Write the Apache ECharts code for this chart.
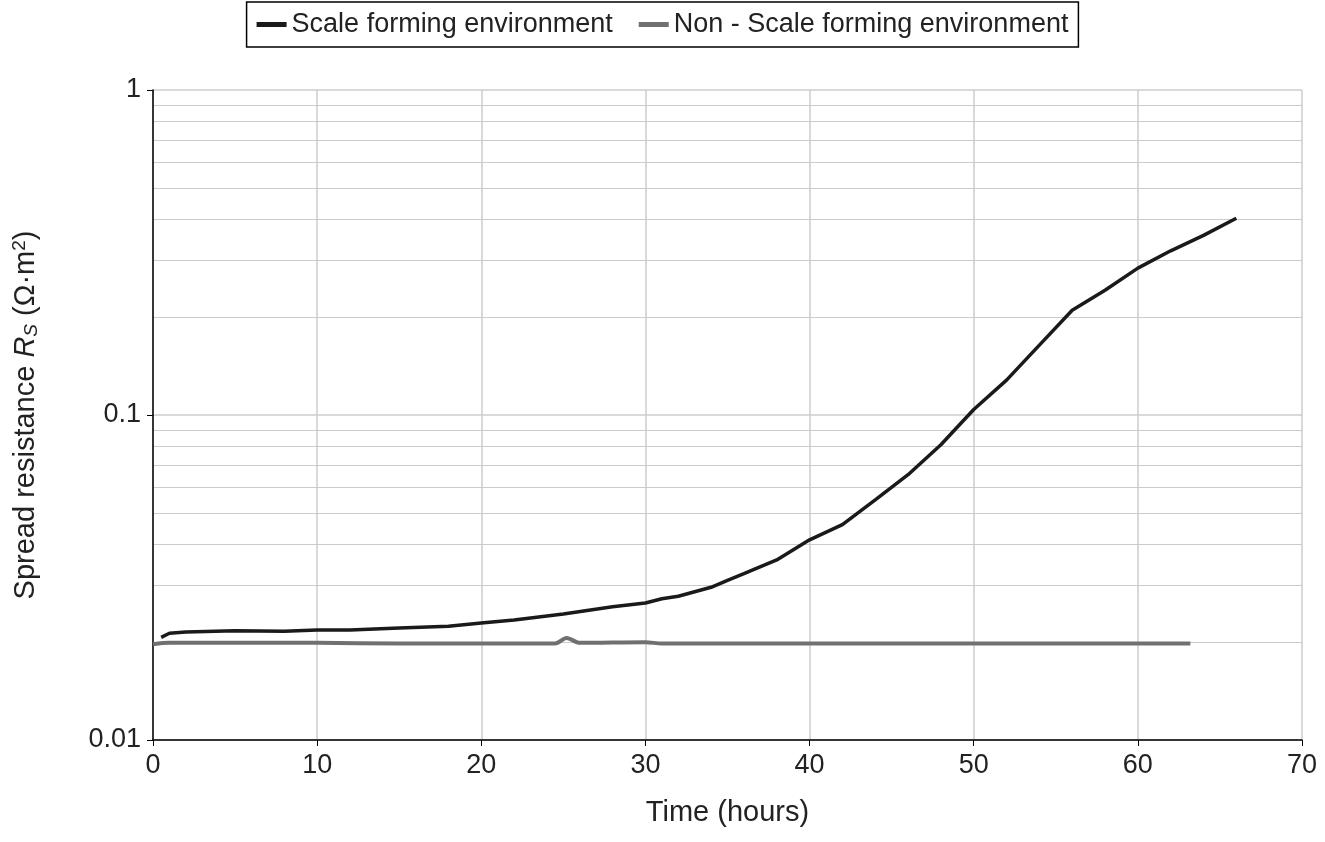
<!DOCTYPE html>
<html><head><meta charset="utf-8">
<script src="https://cdn.jsdelivr.net/npm/echarts@6/dist/echarts.min.js"></script>
<style>html,body{margin:0;padding:0;background:#fff}#c{width:1325px;height:842px}</style>
</head><body><div id="c"></div>
<script>
const scaleX = [0.5,1,2,5,8,10,12,15,18,20,22,25,28,30,31,32,34,35,36,38,40,42,44,46,48,50,52,54,56,58,60,62,64,66];
const scaleY = [0.0207,0.0213,0.0215,0.0217,0.0216,0.0218,0.0218,0.0221,0.0224,0.0229,0.0234,0.0244,0.0257,0.0264,0.0272,0.0277,0.0295,0.031,0.0325,0.0358,0.0413,0.046,0.0548,0.0655,0.081,0.104,0.128,0.164,0.21,0.242,0.283,0.32,0.357,0.403];
const nonX = [0,1,5,10,15,20,24.5,25.2,26,30,31,35,40,50,60,63.2];
const nonY = [0.0197,0.0199,0.0199,0.0199,0.0198,0.0198,0.0198,0.0206,0.0199,0.0200,0.0198,0.0198,0.0198,0.0198,0.0198,0.0198];
const pair=(xs,ys)=>xs.map((x,i)=>[x,ys[i]]);
const chart = echarts.init(document.getElementById('c'));
chart.setOption({
  animation:false,
  textStyle:{fontFamily:'Liberation Sans, Arial'},
  legend:{top:2,left:'center',itemWidth:30,itemHeight:5,itemGap:26,borderColor:'#000',borderWidth:1.5,padding:[9,10],
    textStyle:{fontSize:27,color:'#222'},icon:'rect'},
  grid:{left:153,right:23,top:90,bottom:102},
  xAxis:{type:'value',min:0,max:70,interval:10,
    name:'Time (hours)',nameLocation:'middle',nameGap:58,nameTextStyle:{fontSize:29,color:'#222'},
    axisLine:{lineStyle:{color:'#000',width:1.5}},axisTick:{show:true,length:6,lineStyle:{color:'#000'}},
    axisLabel:{fontSize:27,color:'#222',margin:12},
    splitLine:{lineStyle:{color:'#ccc',width:1.5}}},
  yAxis:{type:'log',logBase:10,min:0.01,max:1,
    name:'{a|Spread resistance }{i|R}{s|S}{a| (Ω·m}{p|2}{a|)}',nameLocation:'middle',nameGap:112,
    nameTextStyle:{rich:{a:{fontSize:29,color:'#222'},i:{fontSize:29,fontStyle:'italic',color:'#222'},
      s:{fontSize:19,fontStyle:'italic',color:'#222',padding:[12,0,0,0]},
      p:{fontSize:19,color:'#222',padding:[0,0,12,0]}}},
    axisLine:{show:true,lineStyle:{color:'#000',width:1.5}},axisTick:{show:true,length:6,lineStyle:{color:'#000'}},
    axisLabel:{fontSize:27,color:'#222',margin:12,formatter:v=>String(v)},
    splitLine:{lineStyle:{color:'#ccc',width:1.5}},
    minorTick:{show:false,splitNumber:9},minorSplitLine:{show:true,lineStyle:{color:'#ccc',width:1.2}}},
  series:[
    {name:'Scale forming environment',type:'line',showSymbol:false,data:pair(scaleX,scaleY),lineStyle:{color:'#1a1a1a',width:3.5},itemStyle:{color:'#1a1a1a'}},
    {name:'Non - Scale forming environment',type:'line',showSymbol:false,smooth:0.3,data:pair(nonX,nonY),lineStyle:{color:'#707070',width:4},itemStyle:{color:'#707070'}}
  ]
});
</script></body></html>
